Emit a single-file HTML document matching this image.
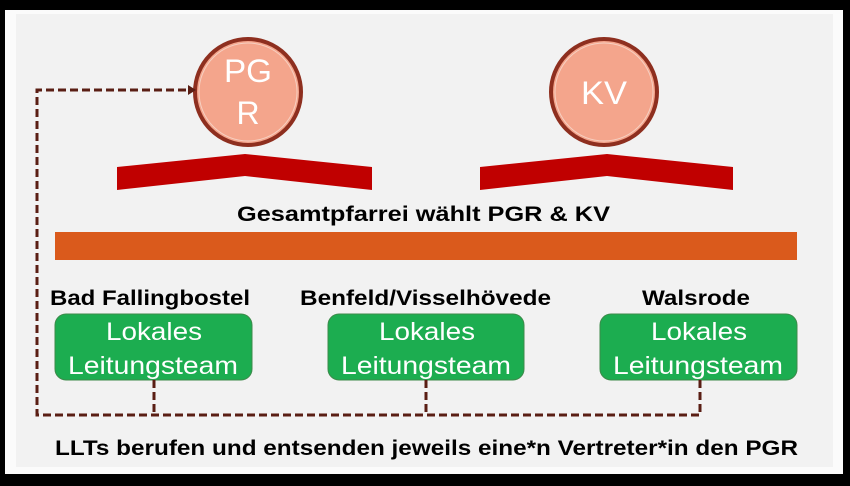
<!DOCTYPE html>
<html><head><meta charset="utf-8"><style>
body{margin:0;width:850px;height:486px;background:#000;overflow:hidden;font-family:"Liberation Sans",sans-serif}
</style></head><body>
<svg width="850" height="486" xmlns="http://www.w3.org/2000/svg" style="position:absolute;left:0;top:0">
<rect x="5" y="10" width="838" height="464" fill="#fbfbfb"/>
<rect x="16" y="14" width="817" height="453" fill="#f2f2f2"/>
<g font-family="Liberation Sans, sans-serif">
<circle cx="248" cy="92" r="53" fill="#f4a58c" stroke="#8e2f1f" stroke-width="4"/>
<circle cx="248" cy="92" r="49" fill="none" stroke="#f6d0c2" stroke-width="1"/>
<text x="248" y="82" font-size="32" fill="#fff" text-anchor="middle" textLength="48" lengthAdjust="spacingAndGlyphs">PG</text>
<text x="248" y="124" font-size="32" fill="#fff" text-anchor="middle">R</text>
<circle cx="604" cy="92" r="53" fill="#f4a58c" stroke="#8e2f1f" stroke-width="4"/>
<circle cx="604" cy="92" r="49" fill="none" stroke="#f6d0c2" stroke-width="1"/>
<text x="604" y="104" font-size="32" fill="#fff" text-anchor="middle" textLength="46" lengthAdjust="spacingAndGlyphs">KV</text>
<polygon points="117,167 245,154 372,167 372,190 245,176 117,190" fill="#c00000"/>
<polygon points="480,167 607,154 733,167 733,190 607,176 480,190" fill="#c00000"/>
<text x="237" y="221" font-size="21" font-weight="bold" fill="#000" textLength="373" lengthAdjust="spacingAndGlyphs">Gesamtpfarrei wählt PGR &amp; KV</text>
<rect x="55" y="232" width="742" height="28" fill="#da5a1c"/>
<text x="50" y="305" font-size="21" font-weight="bold" textLength="200" lengthAdjust="spacingAndGlyphs">Bad Fallingbostel</text>
<text x="300" y="305" font-size="21" font-weight="bold" textLength="251" lengthAdjust="spacingAndGlyphs">Benfeld/Visselhövede</text>
<text x="642" y="305" font-size="21" font-weight="bold" textLength="108" lengthAdjust="spacingAndGlyphs">Walsrode</text>
<g fill="#1cad50" stroke="#3d8a4a" stroke-width="1">
<rect x="55" y="314" width="197" height="66" rx="11"/>
<rect x="328" y="314" width="196" height="66" rx="11"/>
<rect x="600" y="314" width="197" height="66" rx="11"/>
</g>
<g font-size="25" fill="#fff">
<text x="106" y="340" textLength="96" lengthAdjust="spacingAndGlyphs">Lokales</text><text x="68" y="374" textLength="170" lengthAdjust="spacingAndGlyphs">Leitungsteam</text>
<text x="379" y="340" textLength="96" lengthAdjust="spacingAndGlyphs">Lokales</text><text x="341" y="374" textLength="170" lengthAdjust="spacingAndGlyphs">Leitungsteam</text>
<text x="651" y="340" textLength="96" lengthAdjust="spacingAndGlyphs">Lokales</text><text x="613" y="374" textLength="170" lengthAdjust="spacingAndGlyphs">Leitungsteam</text>
</g>
<g fill="none" stroke="#5a1e14" stroke-width="3" stroke-dasharray="8,4">
<path d="M154,380 V415 M426,380 V415 M700,380 V415 H37 V90 H190"/>
</g>
<polygon points="196,90 188,85 188,95" fill="#5a1e14"/>
<text x="55" y="455" font-size="21" font-weight="bold" textLength="743" lengthAdjust="spacingAndGlyphs">LLTs berufen und entsenden jeweils eine*n Vertreter*in den PGR</text>
</g>
</svg>
</body></html>
